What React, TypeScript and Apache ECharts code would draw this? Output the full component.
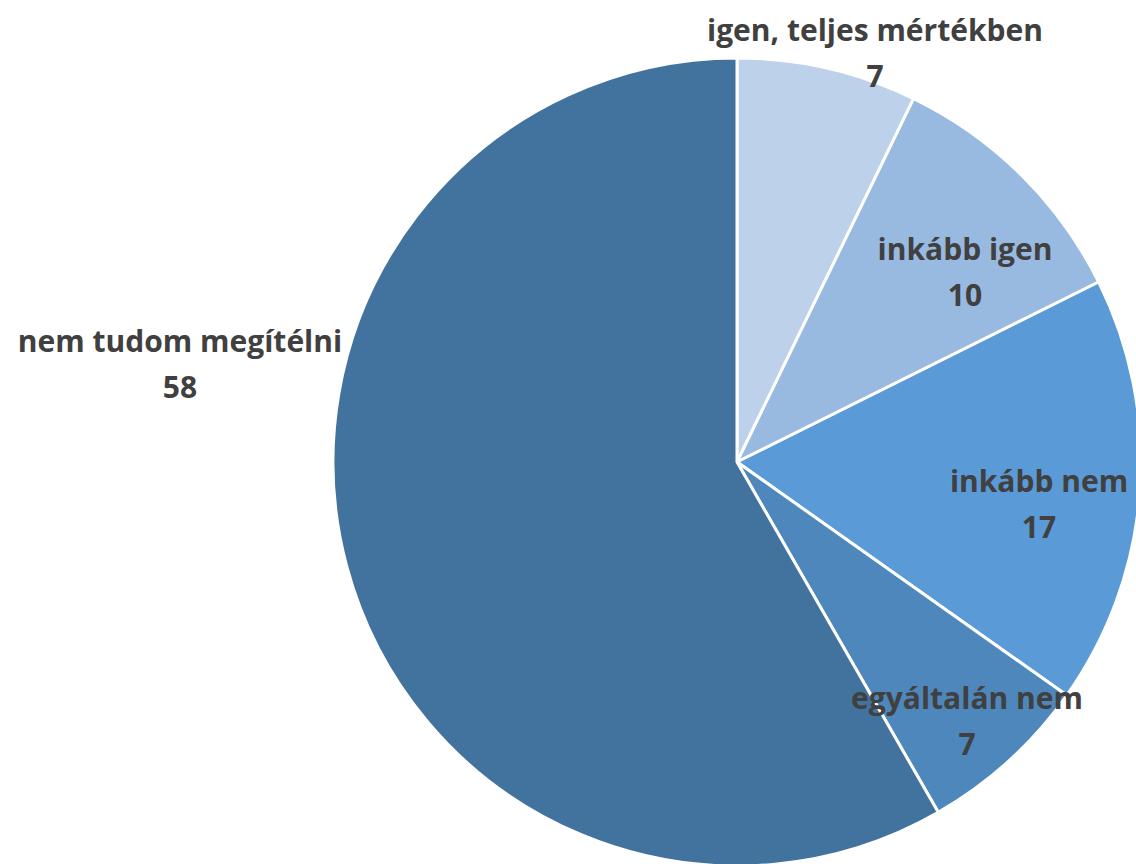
import React, { useEffect, useRef } from "react";
import * as echarts from "echarts";

const categories = [
  "igen, teljes mértékben",
  "inkább igen",
  "inkább nem",
  "egyáltalán nem",
  "nem tudom megítélni",
];
// underlying shares (labels show them rounded)
const values = [7.2, 10.45, 17.15, 6.9, 58.3];
const colors = ["#BDD1EA", "#98B9E0", "#5A9AD6", "#4D87BC", "#42739F"];
const labelPositions: [number, number][] = [
  [875, 52],
  [965, 271],
  [1039, 503],
  [967, 720],
  [180, 363],
];

export default function App() {
  const ref = useRef<HTMLDivElement>(null);
  useEffect(() => {
    if (!ref.current) return;
    const chart = echarts.init(ref.current, undefined, { renderer: "svg" });
    chart.setOption({
      animation: false,
      backgroundColor: "#ffffff",
      series: [
        {
          type: "pie",
          center: [737, 462],
          radius: 404,
          startAngle: 90,
          clockwise: true,
          data: categories.map((name, i) => ({
            name,
            value: values[i],
            itemStyle: { color: colors[i] },
          })),
          itemStyle: { borderColor: "#ffffff", borderWidth: 3 },
          label: {
            show: true,
            position: "inside",
            formatter: (p: any) => `${p.name}\n${Math.round(p.value)}`,
            color: "#404040",
            fontFamily: "'Open Sans', sans-serif",
            fontWeight: "bold",
            fontSize: 30,
            lineHeight: 46,
            align: "center",
          },
          labelLine: { show: false },
          labelLayout: (params: any) => {
            const p = labelPositions[params.dataIndex];
            return { x: p[0], y: p[1], align: "center", verticalAlign: "middle" };
          },
          emphasis: { disabled: true },
        },
      ],
    });
    return () => chart.dispose();
  }, []);
  return (
    <div
      ref={ref}
      style={{ position: "fixed", left: 0, top: 0, width: 1136, height: 864 }}
    />
  );
}
